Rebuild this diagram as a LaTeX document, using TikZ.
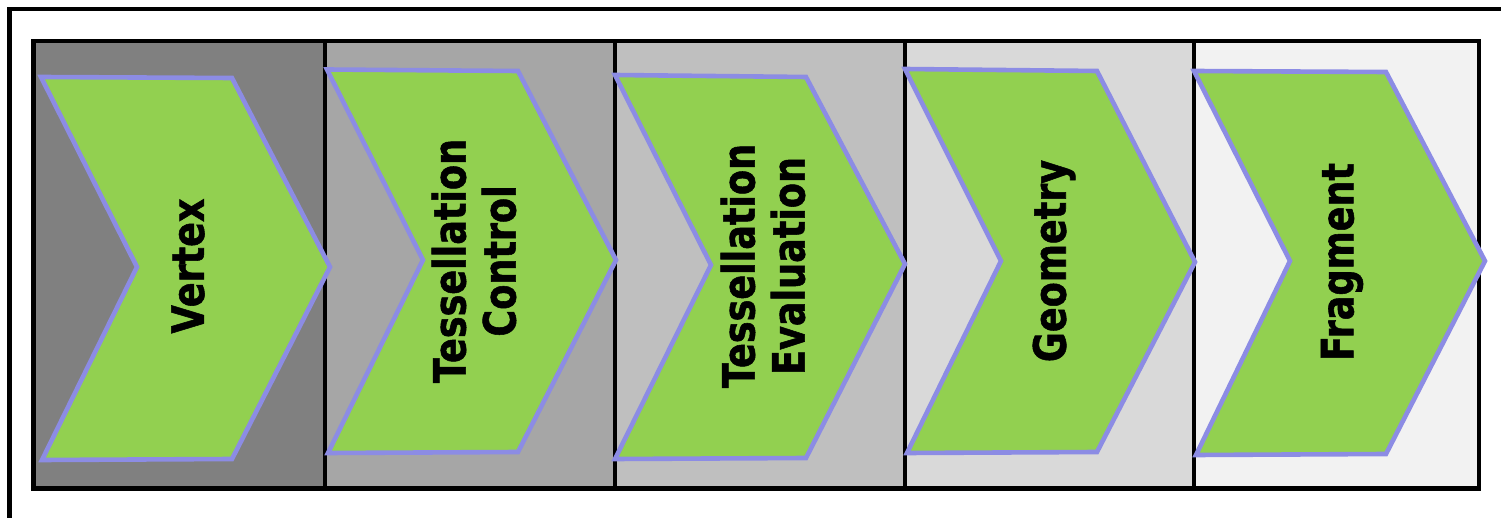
\documentclass[tikz,border=0pt]{standalone}
\usepackage{fontspec}
\newfontfamily\stagefont{DejaVu Sans}[FakeStretch=0.82, BoldFeatures={FakeBold=1.2}]

\definecolor{stagegreen}{HTML}{92D050}
\definecolor{stageedge}{RGB}{140,140,228}
\definecolor{colA}{HTML}{808080}
\definecolor{colB}{HTML}{A6A6A6}
\definecolor{colC}{HTML}{BFBFBF}
\definecolor{colD}{HTML}{D9D9D9}
\definecolor{colE}{HTML}{F2F2F2}

\tikzset{
  frameline/.style={draw=black, line width=2.25pt},
  chevron/.style={fill=stagegreen, draw=stageedge, line width=2.3pt, line join=miter},
  stagelabel/.style={rotate=90, align=center, inner sep=0pt,
    font=\stagefont\bfseries\fontsize{22.3}{25}\selectfont}
}

\begin{document}
\begin{tikzpicture}[x=0.5pt, y=-0.5pt]
\useasboundingbox (0,0) rectangle (1501,518);
\clip (0,0) rectangle (1501,518);

% outer frame (runs past the right and bottom edges)
\draw[frameline] (9.5,9) rectangle (1530,545);

% stage columns
\fill[colA] (33.5,41) rectangle (325,488.5);
\fill[colB] (325,41) rectangle (615,488.5);
\fill[colC] (615,41) rectangle (905,488.5);
\fill[colD] (905,41) rectangle (1194,488.5);
\fill[colE] (1194,41) rectangle (1479,488.5);

% band border and dividers
\draw[frameline] (33.5,41) rectangle (1479,488.5);
\draw[frameline] (325,41) -- (325,488.5);
\draw[frameline] (615,41) -- (615,488.5);
\draw[frameline] (905,41) -- (905,488.5);
\draw[frameline] (1194,41) -- (1194,488.5);

% chevrons
\draw[chevron] (41,77) -- (232,78) -- (330,267) -- (232,459) -- (42,460) -- (137,267) -- cycle;
\draw[chevron] (327,69.5) -- (518,71) -- (616,260) -- (518,452) -- (328,453) -- (423,260) -- cycle;
\draw[chevron] (615,75) -- (806,77) -- (905,264) -- (806,458) -- (615,459) -- (711,265) -- cycle;
\draw[chevron] (905,69) -- (1097,71) -- (1195,262) -- (1097,452) -- (907,453) -- (1001,261) -- cycle;
\draw[chevron] (1194,71) -- (1386,72) -- (1485,261) -- (1386,454) -- (1196,455) -- (1290,261) -- cycle;

% stage names
\node[stagelabel] (vertex) at (188,266) {Vertex};
\node[stagelabel] (tesscontrol) at (474,261) {Tessellation\\Control};
\node[stagelabel] (tesseval) at (763,266) {Tessellation\\Evaluation};
\node[stagelabel] (geometry) at (1054,261) {Geometry};
\node[stagelabel] (fragment) at (1342,262) {Fragment};
\end{tikzpicture}
\end{document}
